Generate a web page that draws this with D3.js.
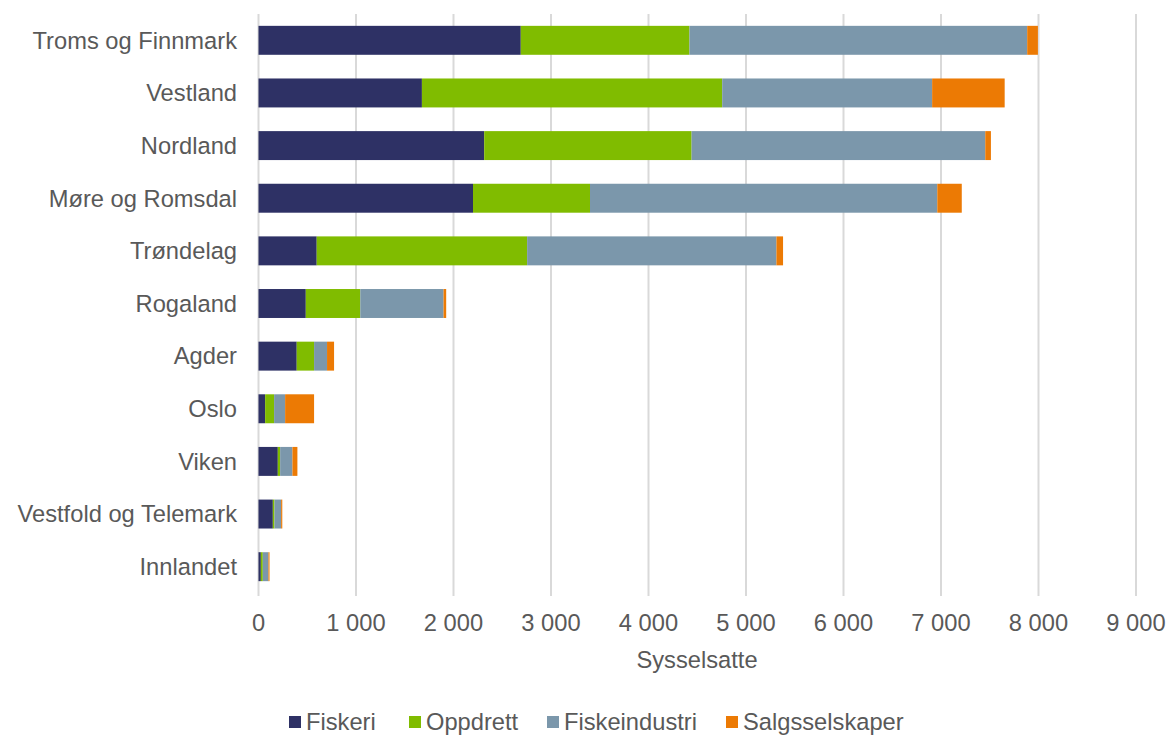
<html>
<head>
<meta charset="utf-8">
<style>
  body { margin: 0; background: #fff; }
  text { font-family: Arial, "Liberation Sans", sans-serif; fill: #595959; }
  .grid line { stroke: #d9d9d9; stroke-width: 2; }
</style>
</head>
<body>
<svg id="chart"></svg>
<script src="https://d3js.org/d3.v7.min.js"></script>
<script>
var regions = ["Troms og Finnmark", "Vestland", "Nordland", "Møre og Romsdal", "Trøndelag",
  "Rogaland", "Agder", "Oslo", "Viken", "Vestfold og Telemark", "Innlandet"];
var seriesNames = ["Fiskeri", "Oppdrett", "Fiskeindustri", "Salgsselskaper"];
var colors = ["#2e3165", "#80bc00", "#7b97ab", "#ec7a04"];

var fiskeri       = [2690, 1676, 2315, 2200, 597, 485, 392, 68, 198, 147, 24];
var oppdrett      = [1730, 3080, 2127, 1200, 2158, 559, 178, 92, 24, 17, 20];
var fiskeindustri = [3464, 2153, 3012, 3562, 2557, 854, 133, 113, 126, 68, 58];
var salg          = [110, 744, 58, 251, 68, 27, 72, 297, 51, 12, 11];

var xTicks = [0, 1000, 2000, 3000, 4000, 5000, 6000, 7000, 8000, 9000];

var W = 1168, H = 735;
var svg = d3.select("#chart").attr("width", W).attr("height", H);

var rows = regions.map(function(r, i) {
  return { region: r, Fiskeri: fiskeri[i], Oppdrett: oppdrett[i],
    Fiskeindustri: fiskeindustri[i], Salgsselskaper: salg[i] };
});
var stacked = d3.stack().keys(seriesNames)(rows);

var x = d3.scaleLinear().domain([0, 9000]).range([258.5, 1136]);
var y = d3.scaleBand().domain(regions).range([14, 593])
  .paddingInner(0.45).paddingOuter(0.225);

// gridlines
svg.append("g").attr("class", "grid")
  .selectAll("line").data(xTicks).enter().append("line")
  .attr("x1", function(d) { return x(d); })
  .attr("x2", function(d) { return x(d); })
  .attr("y1", 14).attr("y2", 596);

// bars
svg.append("g").selectAll("g").data(stacked).enter().append("g")
  .attr("fill", function(d, i) { return colors[i]; })
  .selectAll("rect").data(function(d) { return d; }).enter().append("rect")
  .attr("x", function(d) { return x(d[0]); })
  .attr("width", function(d) { return x(d[1]) - x(d[0]); })
  .attr("y", function(d) { return y(d.data.region); })
  .attr("height", y.bandwidth());

// category labels
svg.append("g").selectAll("text").data(regions).enter().append("text")
  .attr("x", 237)
  .attr("y", function(d) { return y(d) + y.bandwidth() / 2; })
  .attr("dy", "0.35em")
  .attr("text-anchor", "end")
  .style("font-size", "23.7px")
  .text(function(d) { return d; });

// x tick labels
var fmt = function(v) { return d3.format(",")(v).replace(/,/g, " "); };
svg.append("g").selectAll("text").data(xTicks).enter().append("text")
  .attr("x", function(d) { return x(d); })
  .attr("y", 623).attr("dy", "0.35em")
  .attr("text-anchor", "middle")
  .style("font-size", "23.7px")
  .text(fmt);

svg.append("text")
  .attr("x", 697).attr("y", 660).attr("dy", "0.35em")
  .attr("text-anchor", "middle")
  .style("font-size", "23.7px")
  .text("Sysselsatte");

// legend
var legX = [289, 409, 547, 726];
var leg = svg.append("g").selectAll("g").data(seriesNames).enter().append("g")
  .attr("transform", function(d, i) { return "translate(" + legX[i] + ",0)"; });
leg.append("rect").attr("x", 0).attr("y", 716).attr("width", 12).attr("height", 12)
  .attr("fill", function(d, i) { return colors[i]; });
leg.append("text").attr("x", 17).attr("y", 722).attr("dy", "0.35em")
  .style("font-size", "23.7px")
  .text(function(d) { return d; });
</script>
</body>
</html>
